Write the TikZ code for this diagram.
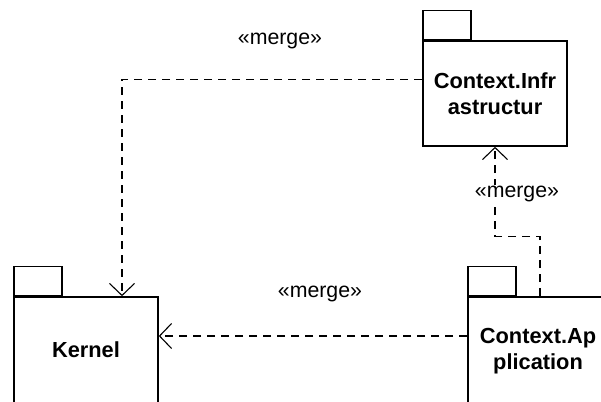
\documentclass[tikz,border=0pt]{standalone}
\usepackage{fontspec}
\setmainfont{Liberation Sans}
\usetikzlibrary{arrows.meta}
\begin{document}
\begin{tikzpicture}[x=1pt,y=-1pt,
	pkg/.style={draw,line width=1.6pt,fill=white,minimum width=144pt,align=center,inner sep=0pt,font=\fontsize{21.8}{26}\selectfont\bfseries},
	tab/.style={draw,line width=1.6pt,minimum width=48pt,minimum height=29pt,inner sep=0pt,anchor=south west},
	merge/.style={line width=1.1pt,dash pattern=on 8pt off 6pt,-{Straight Barb[length=12pt,width=25pt]}},
	lbl/.style={fill=white,inner sep=1pt,font=\fontsize{21.3}{24}\selectfont}]
			\useasboundingbox (0,0) rectangle (601,401);
			\clip (0,0) rectangle (601,401);
			\node [pkg,minimum height=105pt] (infra) at (495,93.5) {Context.Infr\\astructur};
			\node [pkg,minimum height=106pt] (kernel) at (86,350) {Kernel};
			\node [pkg,minimum height=108pt,minimum width=140pt] (appl) at (538,351) {Context.Ap\\plication};
			\node [tab] (t1) at (infra.north west) {};
			\node [tab] (t2) at (kernel.north west) {};
			\node [tab] (t3) at (appl.north west) {};
			\coordinate (y2) at (0,336);
			\draw [merge] ([yshift=14pt]infra.west) -| ([xshift=36pt]kernel.north);
			\draw [merge] (appl.west |- y2) -- (kernel.east |- y2);
			\draw [merge] ([xshift=2pt]appl.north) -- ++(0,-60) -| (infra.south);
			\node [lbl] (m1) at (280,41) {«merge»};
			\node [lbl] (m2) at (320,294) {«merge»};
			\node [lbl] (m3) at (517,194) {«merge»};
		\end{tikzpicture}
\end{document}
